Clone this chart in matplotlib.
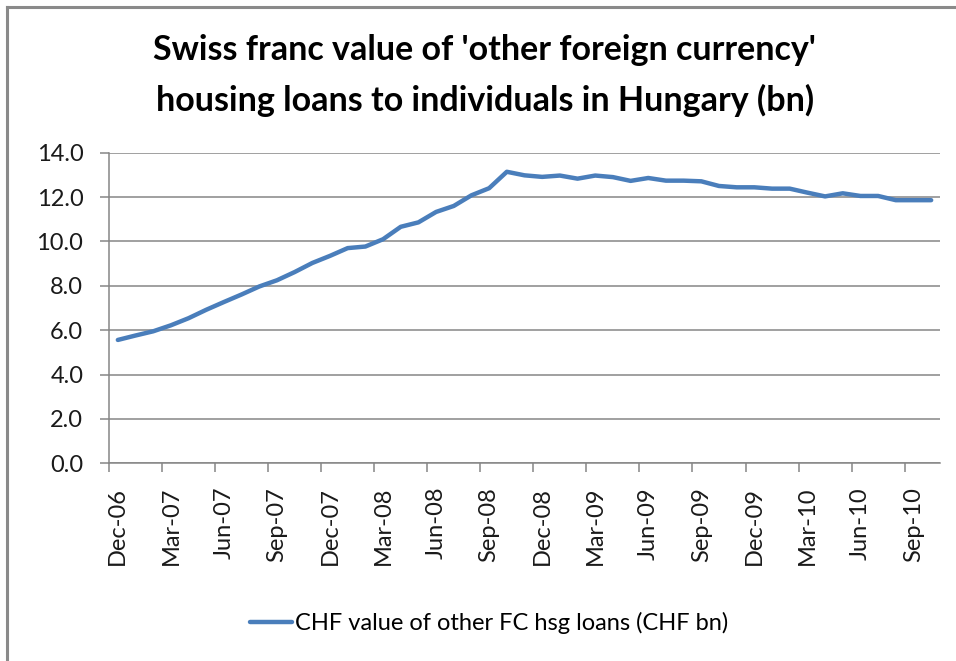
import matplotlib
matplotlib.use("Agg")
import matplotlib.pyplot as plt
from matplotlib.lines import Line2D

# monthly, Dec-06 .. Oct-10
months = ["Dec-06", "Jan-07", "Feb-07", "Mar-07", "Apr-07", "May-07", "Jun-07", "Jul-07",
          "Aug-07", "Sep-07", "Oct-07", "Nov-07", "Dec-07", "Jan-08", "Feb-08", "Mar-08",
          "Apr-08", "May-08", "Jun-08", "Jul-08", "Aug-08", "Sep-08", "Oct-08", "Nov-08",
          "Dec-08", "Jan-09", "Feb-09", "Mar-09", "Apr-09", "May-09", "Jun-09", "Jul-09",
          "Aug-09", "Sep-09", "Oct-09", "Nov-09", "Dec-09", "Jan-10", "Feb-10", "Mar-10",
          "Apr-10", "May-10", "Jun-10", "Jul-10", "Aug-10", "Sep-10", "Oct-10"]
chf_bn = [5.56, 5.76, 5.95, 6.22, 6.54, 6.92, 7.27, 7.61,
          7.97, 8.25, 8.62, 9.03, 9.35, 9.70, 9.77, 10.10,
          10.66, 10.86, 11.33, 11.60, 12.08, 12.40, 13.14, 12.98,
          12.91, 12.97, 12.83, 12.97, 12.90, 12.73, 12.86, 12.74,
          12.74, 12.71, 12.50, 12.44, 12.44, 12.38, 12.38, 12.20,
          12.03, 12.17, 12.05, 12.05, 11.86, 11.86, 11.86]
yticks = [0, 2, 4, 6, 8, 10, 12, 14]

plt.rcParams['font.family'] = ['Lato', 'DejaVu Sans']
grey = '#868686'

fig = plt.figure(figsize=(9.56, 6.61), dpi=100)
ax = fig.add_axes([109/956, 1 - 463.3/661, (940-109)/956, (463.3-152.7)/661])

x = list(range(len(months)))
ax.plot(x, chf_bn, color='#4A7EBB', lw=3.2, solid_capstyle='round',
        label='CHF value of other FC hsg loans (CHF bn)')

ax.set_xlim(-0.5, len(months) - 0.5)
ax.set_ylim(0, 14)
ax.set_yticks(yticks)
ax.set_yticklabels([f"{v:.1f}" for v in yticks])
ax.yaxis.grid(True, color=grey, lw=1.1)
ax.set_axisbelow(True)

# ticks at category borders, labels at category centres
ax.set_xticks([i - 0.5 for i in range(0, len(months), 3)])
ax.set_xticklabels([])
ax.set_xticks(x[::3], minor=True)
ax.set_xticklabels(months[::3], minor=True, rotation=90, fontsize=17, color='#1a1a1a')
ax.tick_params(axis='x', which='minor', length=0, pad=17)
ax.tick_params(axis='x', which='major', length=6.5, color=grey, width=1.1)
ax.tick_params(axis='y', length=6.5, color=grey, width=1.1, labelsize=17,
               labelcolor='#1a1a1a', pad=12)

for s in ['top', 'right']:
    ax.spines[s].set_visible(False)
for s in ['left', 'bottom']:
    ax.spines[s].set_color(grey)
    ax.spines[s].set_linewidth(1.1)

fig.text(0.507, 1 - 50/661, "Swiss franc value of 'other foreign currency'",
         ha='center', va='center', fontsize=24.5, fontweight='bold')
fig.text(0.507, 1 - 100/661, "housing loans to individuals in Hungary (bn)",
         ha='center', va='center', fontsize=24.5, fontweight='bold')

fig.legend(loc='center', bbox_to_anchor=(489/956, 1 - 623/661), frameon=False,
           fontsize=17, handlelength=1.8, handletextpad=0.13)

# frame of the screenshot (left and top only)
fig.add_artist(Line2D([7/956, 7/956], [0, 1 - 7/661], color='#8a8a8a', lw=2.2))
fig.add_artist(Line2D([7/956, 1], [1 - 7/661, 1 - 7/661], color='#8a8a8a', lw=2.2))

fig.savefig('out.png', dpi=100)
